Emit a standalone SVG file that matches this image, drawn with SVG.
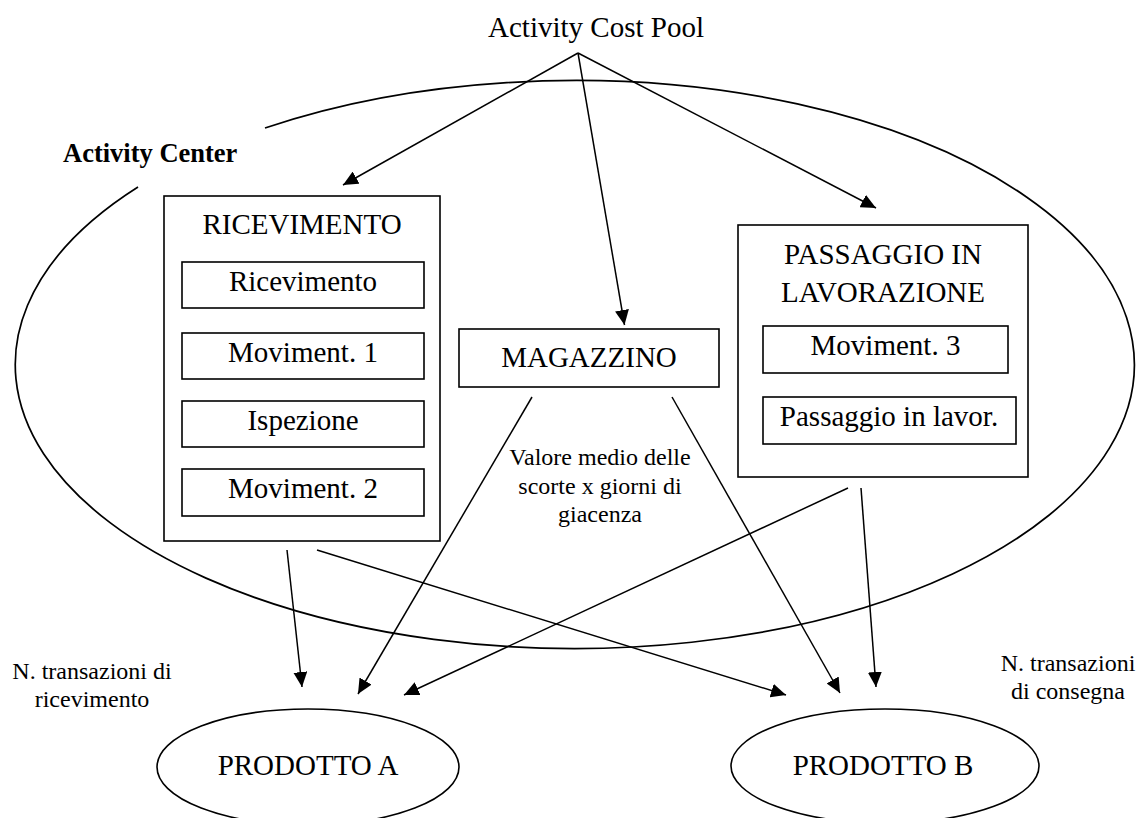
<svg xmlns="http://www.w3.org/2000/svg" width="1140" height="818" viewBox="0 0 1140 818">
  <style>
    text { font-family: "Liberation Serif", "Times New Roman", serif; fill: #000; }
    .t29 { font-size: 29px; text-anchor: middle; }
    .t24 { font-size: 24px; text-anchor: middle; }
    .bold { font-size: 26.5px; font-weight: bold; }
    .box { fill: #fff; stroke: #000; stroke-width: 1.6; }
    .outline { fill: none; stroke: #000; stroke-width: 1.7; }
    .conn { fill: none; stroke: #000; stroke-width: 1.5; marker-end: url(#arrow); }
  </style>
  <defs>
    <marker id="arrow" markerUnits="userSpaceOnUse" viewBox="0 0 15 14" markerWidth="15" markerHeight="14" refX="15" refY="7" orient="auto">
      <path d="M0,0 L15,7 L0,14 Z" fill="#000"/>
    </marker>
  </defs>
  <rect width="1140" height="818" fill="#fff"/>

  <g id="activity-center">
    <path class="outline" d="M265,128 A559.5,284 0 1 1 138,187"/>
    <text class="bold" x="63" y="162">Activity Center</text>
  </g>

  <g id="activity-cost-pool">
    <text class="t29" x="596" y="37">Activity Cost Pool</text>
  </g>

  <g id="ricevimento">
    <rect class="box" x="164" y="196" width="276" height="345"/>
    <text class="t29" x="302" y="234">RICEVIMENTO</text>
    <rect class="box" x="182" y="262" width="242" height="46"/>
    <text class="t29" x="303" y="291">Ricevimento</text>
    <rect class="box" x="182" y="333" width="242" height="46"/>
    <text class="t29" x="303" y="362">Moviment. 1</text>
    <rect class="box" x="182" y="401" width="242" height="46"/>
    <text class="t29" x="303" y="430">Ispezione</text>
    <rect class="box" x="182" y="469" width="242" height="47"/>
    <text class="t29" x="303" y="498">Moviment. 2</text>
  </g>

  <g id="magazzino">
    <rect class="box" x="459" y="329" width="260" height="58"/>
    <text class="t29" x="589" y="367">MAGAZZINO</text>
  </g>

  <g id="passaggio">
    <rect class="box" x="738" y="225" width="290" height="252"/>
    <text class="t29" x="883" y="264">PASSAGGIO IN</text>
    <text class="t29" x="883" y="302">LAVORAZIONE</text>
    <rect class="box" x="763" y="326" width="245" height="47"/>
    <text class="t29" x="885.5" y="355">Moviment. 3</text>
    <rect class="box" x="763" y="397" width="253" height="47"/>
    <text class="t29" x="889" y="426">Passaggio in lavor.</text>
  </g>

  <g id="prodotto-a">
    <ellipse class="box" cx="308" cy="767" rx="151" ry="58"/>
    <text class="t29" x="308" y="775">PRODOTTO A</text>
  </g>

  <g id="prodotto-b">
    <ellipse class="box" cx="885" cy="766" rx="154" ry="57"/>
    <text class="t29" x="883" y="775">PRODOTTO B</text>
  </g>

  <g id="labels">
    <text class="t24" x="600" y="465">Valore medio delle</text>
    <text class="t24" x="600" y="494">scorte x giorni di</text>
    <text class="t24" x="600" y="522">giacenza</text>
    <text class="t24" x="92" y="679">N. transazioni di</text>
    <text class="t24" x="92" y="707">ricevimento</text>
    <text class="t24" x="1068" y="671">N. transazioni</text>
    <text class="t24" x="1068" y="699">di consegna</text>
  </g>

  <g id="connectors">
    <line class="conn" x1="578" y1="53" x2="343" y2="185"/>
    <line class="conn" x1="578" y1="53" x2="624.5" y2="325"/>
    <line class="conn" x1="578" y1="53" x2="876" y2="208"/>
    <line class="conn" x1="287" y1="550" x2="302" y2="687"/>
    <line class="conn" x1="532" y1="397" x2="358" y2="694"/>
    <line class="conn" x1="848" y1="488" x2="404" y2="695"/>
    <line class="conn" x1="317" y1="550" x2="786" y2="695"/>
    <line class="conn" x1="672" y1="397" x2="840" y2="693"/>
    <line class="conn" x1="861" y1="488" x2="876" y2="687"/>
  </g>
</svg>
